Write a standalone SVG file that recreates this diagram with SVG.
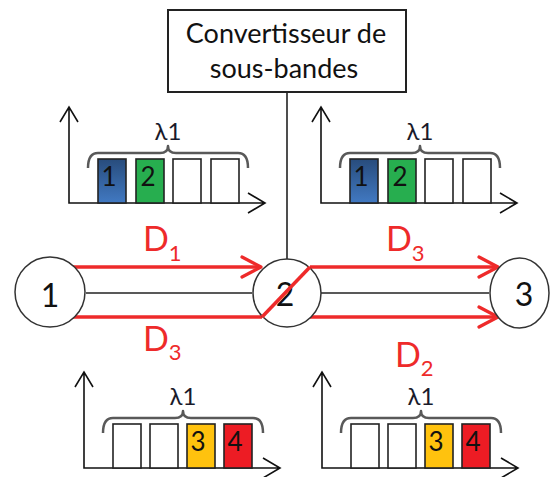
<svg xmlns="http://www.w3.org/2000/svg" width="550" height="477" viewBox="0 0 550 477">
<defs>
<linearGradient id="gBlue" x1="0" y1="0" x2="0" y2="1">
<stop offset="0" stop-color="#284c7c"/>
<stop offset="1" stop-color="#4179c2"/>
</linearGradient>
<marker id="arr" viewBox="0 0 24 24" refX="21" refY="12" markerWidth="24" markerHeight="24" markerUnits="userSpaceOnUse" orient="auto">
<path d="M2,2 L21,12 L2,22" fill="none" stroke="#ee2a2a" stroke-width="3.2" stroke-linecap="round" stroke-linejoin="round"/>
</marker>
</defs>
<style>
text{font-family:Lato,"Open Sans","Liberation Sans",sans-serif;}
.node{fill:#fff;stroke:#333;stroke-width:1.5;}
.ntxt{font-size:32px;fill:#111;text-anchor:middle;}
.blk{stroke:#222;stroke-width:1.6;fill:none;}
.red{stroke:#ee2a2a;stroke-width:3.5;fill:none;}
.dl{font-size:34px;fill:#ee2a2a;}
.ds{font-size:22px;}
.axis{stroke:#111;stroke-width:1.6;fill:none;}
.brace{stroke:#595959;stroke-width:2.5;fill:none;stroke-linejoin:round;}
.slot{stroke:#222;stroke-width:1.6;}
.lam{font-size:24px;fill:#1a1a2a;text-anchor:middle;}
.dig{font-size:26px;fill:#111;text-anchor:middle;}
.boxtxt{font-size:27px;fill:#111;text-anchor:middle;}
</style>

<g id="converter">
<rect x="168" y="10" width="238" height="82" fill="#fff" stroke="#222" stroke-width="2"/>
<text class="boxtxt" x="286" y="43">Convertisseur de</text>
<text class="boxtxt" x="284" y="78">sous-bandes</text>
</g>

<g id="connectors">
<line class="blk" x1="287" y1="92" x2="287" y2="259"/>
<line class="blk" x1="86" y1="293" x2="252" y2="293"/>
<line class="blk" x1="321" y1="293" x2="489" y2="293"/>
<line class="red" x1="72" y1="267" x2="261" y2="267" marker-end="url(#arr)"/>
<line class="red" x1="72" y1="317" x2="262" y2="317"/>
<line class="red" x1="310" y1="267" x2="498" y2="267" marker-end="url(#arr)"/>
<line class="red" x1="310" y1="317" x2="498" y2="317" marker-end="url(#arr)"/>
</g>

<g id="node1">
<circle class="node" cx="50" cy="292" r="35"/>
<text class="ntxt" x="50" y="307">1</text>
</g>
<g id="node2">
<circle class="node" cx="287" cy="293" r="34"/>
<text class="ntxt" x="285" y="306">2</text>
<line class="red" x1="310" y1="267" x2="262" y2="317"/>
</g>
<g id="node3">
<ellipse class="node" cx="519.5" cy="293" rx="29.5" ry="35"/>
<text class="ntxt" x="524" y="306">3</text>
</g>

<g id="labels">
<text class="dl" x="143" y="251">D<tspan class="ds" dy="10">1</tspan></text>
<text class="dl" x="143" y="351">D<tspan class="ds" dy="9">3</tspan></text>
<text class="dl" x="386" y="251">D<tspan class="ds" dy="10">3</tspan></text>
<text class="dl" x="395" y="367">D<tspan class="ds" dy="9">2</tspan></text>
</g>

<g id="chart-top-left" transform="translate(69,203)">
<path class="axis" d="M0,-96 V0 H196 M-9,-81 L0,-96 L9,-81 M179,-10 L196,0 L179,10"/>
<path class="brace" d="M19,-35 Q19,-50 29,-50 H91 Q99,-50 99,-57 Q99,-50 107,-50 H169 Q179,-50 179,-35"/>
<text class="lam" x="99" y="-63">λ1</text>
<rect class="slot" x="29" y="-44" width="28" height="44" fill="url(#gBlue)"/>
<rect class="slot" x="67" y="-44" width="28" height="44" fill="#27ae4f"/>
<rect class="slot" x="104" y="-44" width="28" height="44" fill="#fff"/>
<rect class="slot" x="142" y="-44" width="28" height="44" fill="#fff"/>
<text class="dig" x="40" y="-17">1</text>
<text class="dig" x="79" y="-17">2</text>
</g>

<g id="chart-top-right" transform="translate(321,203)">
<path class="axis" d="M0,-96 V0 H196 M-9,-81 L0,-96 L9,-81 M179,-10 L196,0 L179,10"/>
<path class="brace" d="M19,-35 Q19,-50 29,-50 H91 Q99,-50 99,-57 Q99,-50 107,-50 H169 Q179,-50 179,-35"/>
<text class="lam" x="99" y="-63">λ1</text>
<rect class="slot" x="29" y="-44" width="28" height="44" fill="url(#gBlue)"/>
<rect class="slot" x="67" y="-44" width="28" height="44" fill="#27ae4f"/>
<rect class="slot" x="104" y="-44" width="28" height="44" fill="#fff"/>
<rect class="slot" x="142" y="-44" width="28" height="44" fill="#fff"/>
<text class="dig" x="40" y="-17">1</text>
<text class="dig" x="79" y="-17">2</text>
</g>

<g id="chart-bottom-left" transform="translate(84,468)">
<path class="axis" d="M0,-96 V0 H196 M-9,-81 L0,-96 L9,-81 M179,-10 L196,0 L179,10"/>
<path class="brace" d="M19,-35 Q19,-50 29,-50 H91 Q99,-50 99,-57 Q99,-50 107,-50 H169 Q179,-50 179,-35"/>
<text class="lam" x="99" y="-63">λ1</text>
<rect class="slot" x="29" y="-44" width="28" height="44" fill="#fff"/>
<rect class="slot" x="66" y="-44" width="28" height="44" fill="#fff"/>
<rect class="slot" x="103" y="-44" width="28" height="44" fill="#ffc20e"/>
<rect class="slot" x="140" y="-44" width="28" height="44" fill="#ed1c24"/>
<text class="dig" x="114" y="-17">3</text>
<text class="dig" x="151" y="-17">4</text>
</g>

<g id="chart-bottom-right" transform="translate(322,468)">
<path class="axis" d="M0,-96 V0 H196 M-9,-81 L0,-96 L9,-81 M179,-10 L196,0 L179,10"/>
<path class="brace" d="M19,-35 Q19,-50 29,-50 H91 Q99,-50 99,-57 Q99,-50 107,-50 H169 Q179,-50 179,-35"/>
<text class="lam" x="99" y="-63">λ1</text>
<rect class="slot" x="29" y="-44" width="28" height="44" fill="#fff"/>
<rect class="slot" x="66" y="-44" width="28" height="44" fill="#fff"/>
<rect class="slot" x="103" y="-44" width="28" height="44" fill="#ffc20e"/>
<rect class="slot" x="140" y="-44" width="28" height="44" fill="#ed1c24"/>
<text class="dig" x="114" y="-17">3</text>
<text class="dig" x="151" y="-17">4</text>
</g>
</svg>
